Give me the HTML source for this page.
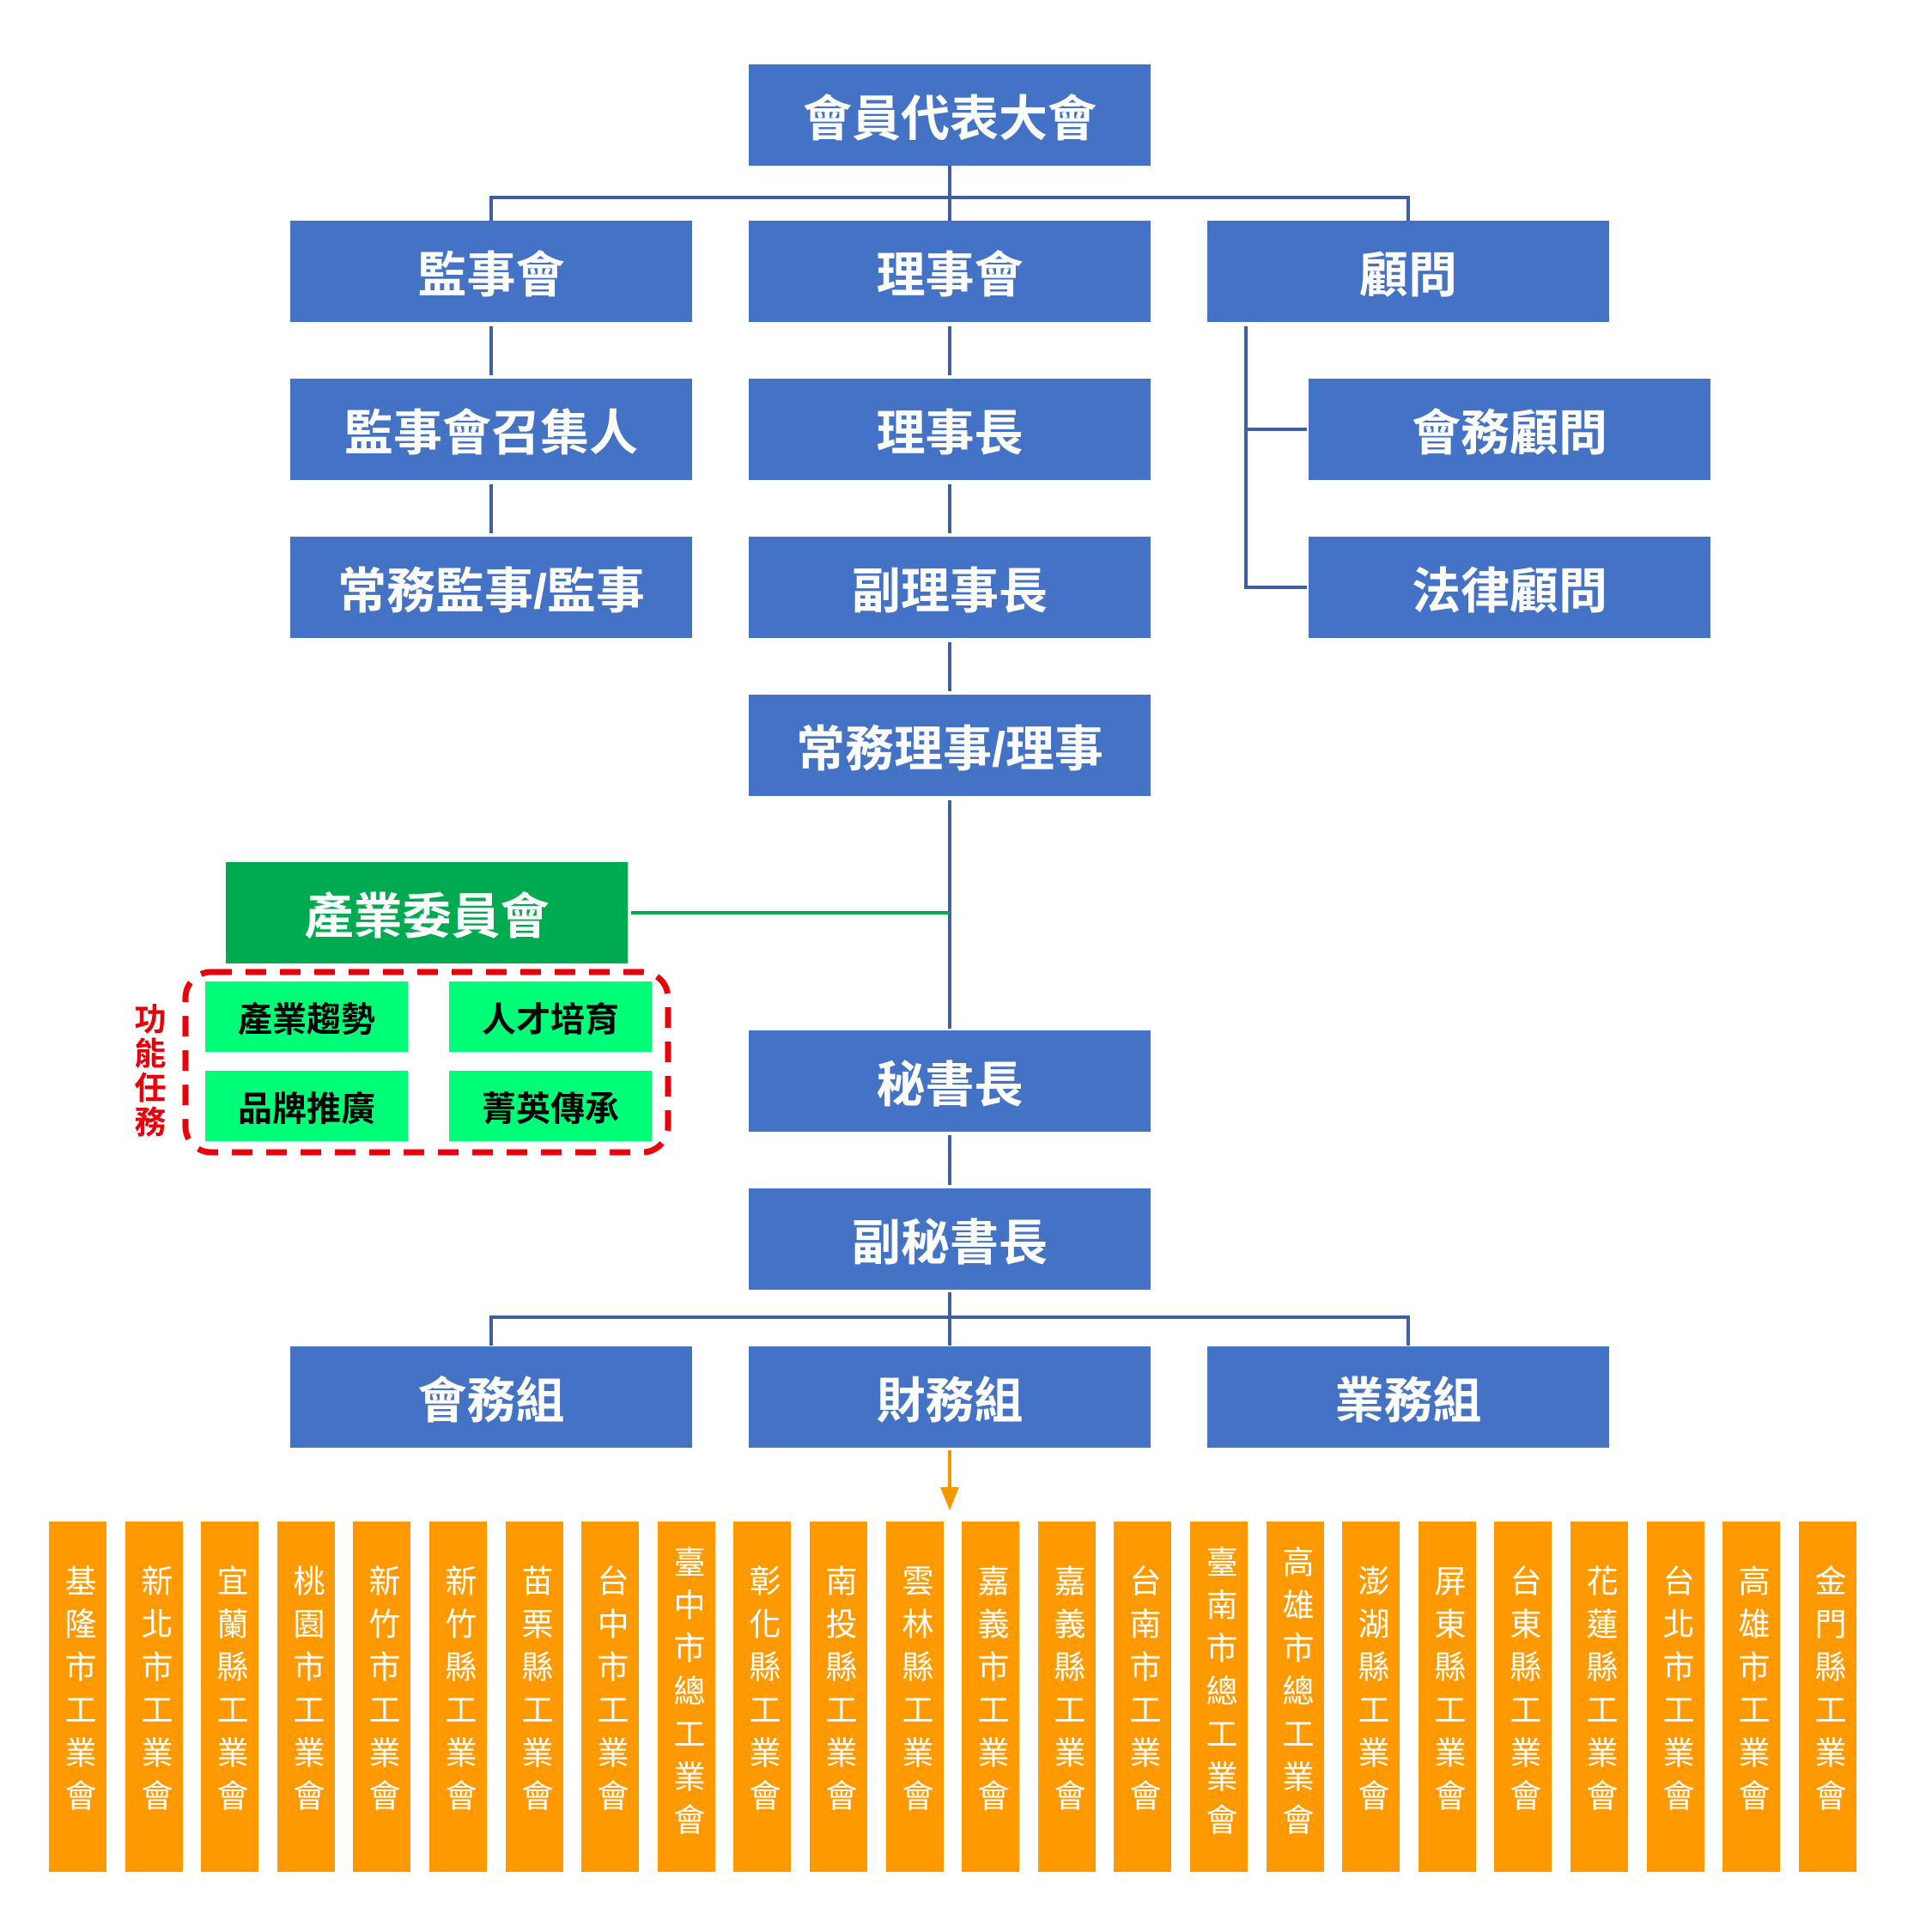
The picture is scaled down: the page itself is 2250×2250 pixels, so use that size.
<!DOCTYPE html>
<html><head><meta charset="utf-8"><style>
html,body{margin:0;padding:0;background:#fff}
body{width:2250px;height:2250px;position:relative;overflow:hidden;font-family:"Liberation Sans","Noto Sans CJK TC",sans-serif}
.b{position:absolute;background:#4472C4;color:#fff;font-weight:bold;font-size:57px;display:flex;align-items:center;justify-content:center;width:468px;height:118px}
.l{position:absolute;background:#3F5FA0}
.g{position:absolute;background:#00FF78;color:#000;font-weight:bold;font-size:40px;display:flex;align-items:center;justify-content:center;width:236px;height:82px}
.o{position:absolute;top:1772px;width:67px;height:408px;background:#FF9900;color:#fff;font-size:37px;writing-mode:vertical-rl;text-orientation:upright;letter-spacing:13px;display:flex;justify-content:flex-start;align-items:center;box-sizing:border-box;padding-top:50px;line-height:67px}
.o.e{padding-top:28px}
</style></head><body>
<div class="l" style="left:1104px;top:193px;width:4px;height:64px"></div>
<div class="l" style="left:570px;top:228px;width:1072px;height:4px"></div>
<div class="l" style="left:570px;top:228px;width:4px;height:29px"></div>
<div class="l" style="left:1638px;top:228px;width:4px;height:29px"></div>
<div class="l" style="left:570px;top:380px;width:4px;height:57px"></div>
<div class="l" style="left:570px;top:564px;width:4px;height:57px"></div>
<div class="l" style="left:1104px;top:380px;width:4px;height:57px"></div>
<div class="l" style="left:1104px;top:564px;width:4px;height:57px"></div>
<div class="l" style="left:1104px;top:748px;width:4px;height:57px"></div>
<div class="l" style="left:1104px;top:932px;width:4px;height:266px"></div>
<div class="l" style="left:1104px;top:1322px;width:4px;height:58px"></div>
<div class="l" style="left:1449px;top:380px;width:4px;height:306px"></div>
<div class="l" style="left:1449px;top:498px;width:73px;height:4px"></div>
<div class="l" style="left:1449px;top:682px;width:73px;height:4px"></div>
<div class="l" style="left:1104px;top:1505px;width:4px;height:62px"></div>
<div class="l" style="left:570px;top:1532px;width:1072px;height:4px"></div>
<div class="l" style="left:570px;top:1532px;width:4px;height:35px"></div>
<div class="l" style="left:1638px;top:1532px;width:4px;height:35px"></div>
<div class="l" style="left:735px;top:1061px;width:371px;height:4px;background:#00AA50"></div>

<div class="b" style="left:872px;top:75px">會員代表大會</div>
<div class="b" style="left:338px;top:257px">監事會</div>
<div class="b" style="left:872px;top:257px">理事會</div>
<div class="b" style="left:1406px;top:257px">顧問</div>
<div class="b" style="left:338px;top:441px">監事會召集人</div>
<div class="b" style="left:872px;top:441px">理事長</div>
<div class="b" style="left:1524px;top:441px">會務顧問</div>
<div class="b" style="left:338px;top:625px">常務監事/監事</div>
<div class="b" style="left:872px;top:625px">副理事長</div>
<div class="b" style="left:1524px;top:625px">法律顧問</div>
<div class="b" style="left:872px;top:809px">常務理事/理事</div>
<div class="b" style="left:263px;top:1004px;background:#00AA50">產業委員會</div>
<div class="b" style="left:872px;top:1200px">秘書長</div>
<div class="b" style="left:872px;top:1384px">副秘書長</div>
<div class="b" style="left:338px;top:1568px">會務組</div>
<div class="b" style="left:872px;top:1568px">財務組</div>
<div class="b" style="left:1406px;top:1568px">業務組</div>

<svg style="position:absolute;left:210px;top:1126px" width="576" height="224"><rect x="6" y="6" width="562" height="210" rx="30" ry="30" fill="none" stroke="#E8000B" stroke-width="7" stroke-dasharray="24 16"/></svg>
<div class="g" style="left:239px;top:1143px">產業趨勢</div>
<div class="g" style="left:523px;top:1143px">人才培育</div>
<div class="g" style="left:239px;top:1247px">品牌推廣</div>
<div class="g" style="left:523px;top:1247px">菁英傳承</div>
<div style="position:absolute;left:152px;top:1168px;width:46px;color:#E8000B;font-weight:bold;font-size:37px;line-height:40px;text-align:center">功<br>能<br>任<br>務</div>

<div style="position:absolute;left:1104px;top:1689px;width:4px;height:50px;background:#F39800"></div>
<svg style="position:absolute;left:1095px;top:1732px" width="22" height="28"><polygon points="0,0 22,0 11,27" fill="#F39800"/></svg>

<div class="o" style="left:57px">基隆市工業會</div>
<div class="o" style="left:146px">新北市工業會</div>
<div class="o" style="left:234px">宜蘭縣工業會</div>
<div class="o" style="left:323px">桃園市工業會</div>
<div class="o" style="left:411px">新竹市工業會</div>
<div class="o" style="left:500px">新竹縣工業會</div>
<div class="o" style="left:589px">苗栗縣工業會</div>
<div class="o" style="left:677px">台中市工業會</div>
<div class="o e" style="left:766px">臺中市總工業會</div>
<div class="o" style="left:854px">彰化縣工業會</div>
<div class="o" style="left:943px">南投縣工業會</div>
<div class="o" style="left:1032px">雲林縣工業會</div>
<div class="o" style="left:1120px">嘉義市工業會</div>
<div class="o" style="left:1209px">嘉義縣工業會</div>
<div class="o" style="left:1297px">台南市工業會</div>
<div class="o e" style="left:1386px">臺南市總工業會</div>
<div class="o e" style="left:1475px">高雄市總工業會</div>
<div class="o" style="left:1563px">澎湖縣工業會</div>
<div class="o" style="left:1652px">屏東縣工業會</div>
<div class="o" style="left:1740px">台東縣工業會</div>
<div class="o" style="left:1829px">花蓮縣工業會</div>
<div class="o" style="left:1918px">台北市工業會</div>
<div class="o" style="left:2006px">高雄市工業會</div>
<div class="o" style="left:2095px">金門縣工業會</div>
</body></html>
